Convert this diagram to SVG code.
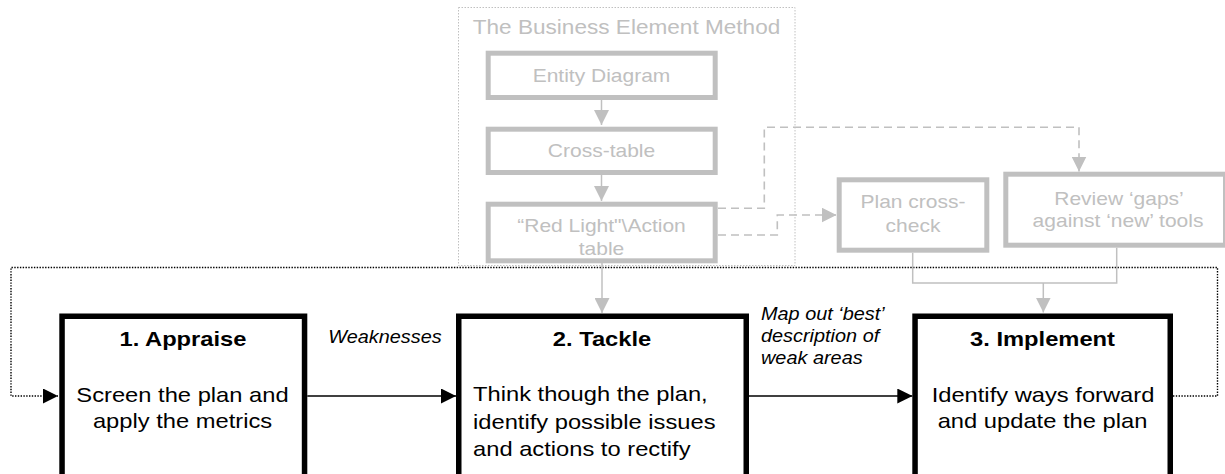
<svg xmlns="http://www.w3.org/2000/svg" width="1225" height="474" viewBox="0 0 1225 474">
<style>
.gbox{fill:#fff;stroke:#c0c0c0;stroke-width:5}
.bbox{fill:#fff;stroke:#000;stroke-width:5.5}
.t{font-family:"Liberation Sans",Arial,sans-serif}
.gt{font-size:18.6px;fill:#c0c0c0;text-anchor:middle}
.gtitle{font-size:20px;fill:#c0c0c0;text-anchor:middle}
.bh{font-size:21px;font-weight:bold;fill:#000;text-anchor:middle}
.bb{font-size:21px;fill:#000;text-anchor:middle}
.bl{font-size:21px;fill:#000;text-anchor:start}
.it{font-size:17.6px;font-style:italic;fill:#000}
.gline{fill:none;stroke:#c0c0c0;stroke-width:1.5}
.gdash{fill:none;stroke:#c0c0c0;stroke-width:1.6;stroke-dasharray:8 5}
.bline{fill:none;stroke:#000;stroke-width:1.5}
.bdot{fill:none;stroke:#000;stroke-width:1.4;stroke-dasharray:1.4 1.4}
.container{fill:none;stroke:#c0c0c0;stroke-width:1;stroke-dasharray:1.5 1.5}
</style>
<defs>
<marker id="ag" viewBox="0 0 15 15" refX="15" refY="7.5" markerWidth="15" markerHeight="15" markerUnits="userSpaceOnUse" orient="auto"><path d="M0,0 L15,7.5 L0,15 z" fill="#c0c0c0"/></marker>
<marker id="ab" viewBox="0 0 15 15" refX="15" refY="7.5" markerWidth="15" markerHeight="15" markerUnits="userSpaceOnUse" orient="auto"><path d="M0,0 L15,7.5 L0,15 z" fill="#000"/></marker>
</defs>

<g id="bem-container">
<rect class="container" x="458.5" y="7.5" width="336.5" height="258"/>
<text class="t gtitle" transform="translate(626.5,34) scale(1.13,1)">The Business Element Method</text>
</g>

<g id="connectors">
<path class="bdot" d="M1173,396 H1217.5 V267.5 H11 V396 H58" marker-end="url(#ab)"/>
<path class="gline" d="M601.5,100 V125" marker-end="url(#ag)"/>
<path class="gline" d="M601.5,175 V201" marker-end="url(#ag)"/>
<path class="gline" d="M602,263 V313" marker-end="url(#ag)"/>
<path class="gdash" d="M718,208.3 H764.3 V127.3 H1079 V171.5" marker-end="url(#ag)"/>
<path class="gdash" d="M718,235 H777.3 V215 H836.5" marker-end="url(#ag)"/>
<path class="gline" d="M912.7,252.7 V283 H1116.7 V247.7"/>
<path class="gline" d="M1043.3,283 V312.5" marker-end="url(#ag)"/>
<path class="bline" d="M307.3,396 H456" marker-end="url(#ab)"/>
<path class="bline" d="M749,396 H912.3" marker-end="url(#ab)"/>
</g>

<g id="entity-diagram">
<rect class="gbox" x="488.2" y="53.2" width="227" height="44.3"/>
<text class="t gt" transform="translate(601.5,81.5) scale(1.13,1)">Entity Diagram</text>
</g>
<g id="cross-table">
<rect class="gbox" x="488.2" y="129.2" width="227" height="43.3"/>
<text class="t gt" transform="translate(601.5,156.5) scale(1.13,1)">Cross-table</text>
</g>
<g id="red-light-table">
<rect class="gbox" x="488.2" y="204.2" width="227" height="56.6"/>
<text class="t gt" transform="translate(601.5,232) scale(1.13,1)">“Red Light"\Action</text>
<text class="t gt" transform="translate(601.5,255) scale(1.13,1)">table</text>
</g>
<g id="plan-cross-check">
<rect class="gbox" x="839.2" y="179.8" width="147.6" height="70.4"/>
<text class="t gt" transform="translate(913,208.3) scale(1.13,1)">Plan cross-</text>
<text class="t gt" transform="translate(913,231.7) scale(1.13,1)">check</text>
</g>
<g id="review-gaps">
<rect class="gbox" x="1005.8" y="174.2" width="219.7" height="71"/>
<text class="t gt" transform="translate(1119,205) scale(1.13,1)">Review ‘gaps’</text>
<text class="t gt" transform="translate(1118,227) scale(1.13,1)">against ‘new’ tools</text>
</g>

<g id="appraise">
<rect class="bbox" x="62.05" y="316.25" width="242.5" height="200"/>
<text class="t bh" transform="translate(183,346) scale(1.13,1)">1. Appraise</text>
<text class="t bb" transform="translate(182.5,401.5) scale(1.13,1)">Screen the plan and</text>
<text class="t bb" transform="translate(182.5,428) scale(1.13,1)">apply the metrics</text>
</g>
<g id="tackle">
<rect class="bbox" x="458.75" y="316.25" width="287.5" height="200"/>
<text class="t bh" transform="translate(602,346) scale(1.13,1)">2. Tackle</text>
<text class="t bl" transform="translate(473,400.7) scale(1.13,1)">Think though the plan,</text>
<text class="t bl" transform="translate(473,428.5) scale(1.13,1)">identify possible issues</text>
<text class="t bl" transform="translate(473,455.5) scale(1.13,1)">and actions to rectify</text>
</g>
<g id="implement">
<rect class="bbox" x="915.05" y="316.25" width="255.2" height="200"/>
<text class="t bh" transform="translate(1042.5,345.7) scale(1.13,1)">3. Implement</text>
<text class="t bb" transform="translate(1043,401.7) scale(1.13,1)">Identify ways forward</text>
<text class="t bb" transform="translate(1042.5,428) scale(1.13,1)">and update the plan</text>
</g>

<g id="labels">
<text class="t it" text-anchor="middle" transform="translate(385,342.7) scale(1.13,1)">Weaknesses</text>
<text class="t it" transform="translate(761,320) scale(1.13,1)">Map out ‘best’</text>
<text class="t it" transform="translate(761,341.7) scale(1.13,1)">description of</text>
<text class="t it" transform="translate(761,364) scale(1.13,1)">weak areas</text>
</g>
</svg>
